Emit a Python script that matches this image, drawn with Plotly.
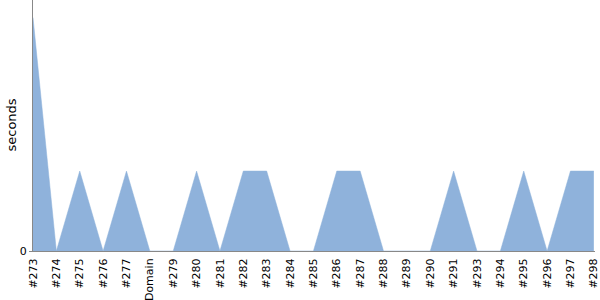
import plotly.graph_objects as go

categories = ["#273", "#274", "#275", "#276", "#277", "Domain", "#279", "#280", "#281",
              "#282", "#283", "#284", "#285", "#286", "#287", "#288", "#289", "#290",
              "#291", "#293", "#294", "#295", "#296", "#297", "#298"]
seconds = [2.92, 0, 1, 0, 1, 0, 0, 1, 0,
           1, 1, 0, 0, 1, 1, 0, 0, 0,
           1, 0, 0, 1, 0, 1, 1]

fig = go.Figure()
fig.add_trace(go.Scatter(
    x=list(range(len(categories))), y=seconds, mode="lines",
    fill="tozeroy", fillcolor="rgb(143,178,219)",
    line=dict(color="rgb(143,178,219)", width=0.5),
    hoverinfo="skip", showlegend=False,
))
fig.update_layout(
    width=600, height=300,
    margin=dict(l=33, r=5, t=0, b=49),
    plot_bgcolor="white", paper_bgcolor="white",
    font=dict(family="DejaVu Sans", size=11, color="black"),
)
fig.add_annotation(
    text="seconds", xref="paper", yref="paper", x=0, y=0.5, xshift=-22,
    textangle=-90, showarrow=False, font=dict(size=13), xanchor="center", yanchor="middle",
)
fig.update_xaxes(
    tickmode="array", tickvals=list(range(len(categories))), ticktext=categories,
    tickangle=-90, range=[0, len(categories) - 1 + 0.05],
    showgrid=False, zeroline=False, showline=True, linecolor="#888888", linewidth=1,
    ticks="outside", ticklen=2, tickcolor="rgba(0,0,0,0)", tickfont=dict(size=11),
    ticklabeloverflow="allow",
)
fig.update_yaxes(
    range=[0, 3.14], tickvals=[0], ticktext=["0"],
    showgrid=False, zeroline=False, showline=True, linecolor="#888888", linewidth=1,
    ticks="outside", ticklen=3, tickcolor="#888888",
)
fig.write_html("out.html")
